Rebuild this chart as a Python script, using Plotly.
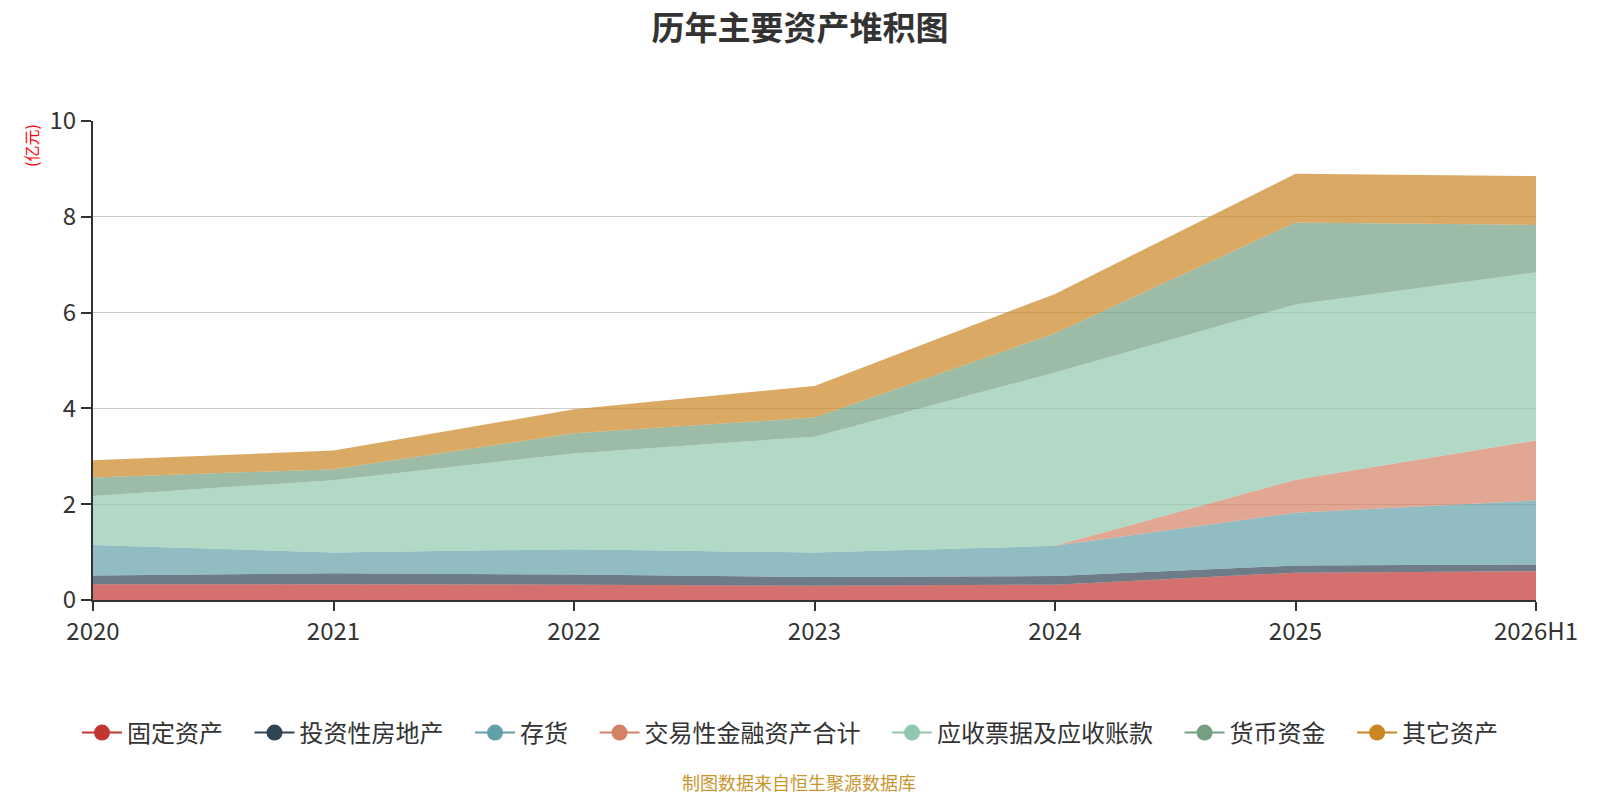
import plotly.graph_objects as go

## Data (unit: 亿元)
years = ["2020", "2021", "2022", "2023", "2024", "2025", "2026H1"]

fixed_assets = [0.33, 0.33, 0.32, 0.30, 0.32, 0.57, 0.60]
invest_property = [0.18, 0.23, 0.21, 0.18, 0.18, 0.15, 0.14]
inventory = [0.64, 0.43, 0.53, 0.51, 0.63, 1.10, 1.34]
trading_fin = [0.0, 0.0, 0.0, 0.0, 0.0, 0.69, 1.25]
receivables = [1.02, 1.51, 2.00, 2.42, 3.62, 3.66, 3.51]
cash = [0.39, 0.23, 0.42, 0.40, 0.82, 1.71, 0.99]
other_assets = [0.36, 0.39, 0.50, 0.66, 0.82, 1.02, 1.02]

series_names = ["固定资产", "投资性房地产", "存货", "交易性金融资产合计",
                "应收票据及应收账款", "货币资金", "其它资产"]
series_values = [fixed_assets, invest_property, inventory, trading_fin,
                 receivables, cash, other_assets]
colors = ["#c23531", "#2f4554", "#61a0a8", "#d48265", "#91c7ae", "#749f83", "#ca8622"]

FONT = "Noto Sans CJK SC"

# figure is drawn inside the page body (8px margin), so size it to fit
W, H = 1584, 784
L, R, T, B = 85, 56, 113, 192
PW, PH = W - L - R, H - T - B


def rgba(hex_color, a):
    h = hex_color.lstrip("#")
    r, g, b = int(h[0:2], 16), int(h[2:4], 16), int(h[4:6], 16)
    return f"rgba({r},{g},{b},{a})"


fig = go.Figure()

# stacked areas
for name, vals, col in zip(series_names, series_values, colors):
    fig.add_trace(go.Scatter(
        x=years, y=vals, name=name,
        mode="lines", stackgroup="one",
        line=dict(width=0, color=col),
        fillcolor=rgba(col, 0.7),
        showlegend=False,
    ))

# legend entries (line + circle symbol)
for name, col in zip(series_names, colors):
    fig.add_trace(go.Scatter(
        x=[None], y=[None], name=name + "\u00a0\u00a0\u00a0\u00a0",
        mode="lines+markers",
        line=dict(width=2, color=col),
        marker=dict(size=22, color=col),
    ))

fig.update_layout(
    width=W, height=H,
    paper_bgcolor="white", plot_bgcolor="white",
    margin=dict(l=L, r=R, t=T, b=B),
    font=dict(family=FONT, color="#333333"),
    title=dict(
        text="<b>历年主要资产堆积图</b>",
        x=0.5, xanchor="center", y=1 - 20 / H, yanchor="middle",
        font=dict(size=33, color="#333333", family=FONT),
    ),
    legend=dict(
        orientation="h", traceorder="normal",
        xref="container", x=793 / W, xanchor="center",
        yref="container", y=1 - 725 / H, yanchor="middle",
        font=dict(size=24, color="#333333", family=FONT),
        itemwidth=40,
    ),
    showlegend=True,
)

fig.update_xaxes(
    type="category", range=[0, 6],
    showgrid=False, zeroline=False,
    showline=True, linecolor="#333333", linewidth=2,
    ticks="outside", ticklen=9, tickcolor="#333333", tickwidth=2,
    tickfont=dict(size=24, color="#333333"),
)
fig.update_yaxes(
    range=[0, 10], dtick=2,
    showgrid=True, gridcolor="#cccccc", gridwidth=1.3,
    zeroline=False,
    showline=True, linecolor="#333333", linewidth=2,
    ticks="outside", ticklen=10, tickcolor="#333333", tickwidth=2,
    tickfont=dict(size=24, color="#333333"),
)

# y unit label
fig.add_annotation(
    text="(亿元)", textangle=-90,
    xref="paper", yref="paper",
    x=(23 - L) / PW, y=(H - B - 138) / PH,
    xanchor="center", yanchor="middle",
    showarrow=False,
    font=dict(size=16, color="red", family=FONT),
)

# source note
fig.add_annotation(
    text="制图数据来自恒生聚源数据库",
    xref="paper", yref="paper",
    x=(791 - L) / PW, y=(H - B - 774) / PH,
    xanchor="center", yanchor="middle",
    showarrow=False, borderpad=0,
    font=dict(size=18, color="#c8962e", family=FONT),
)

fig.write_html("out.html")
